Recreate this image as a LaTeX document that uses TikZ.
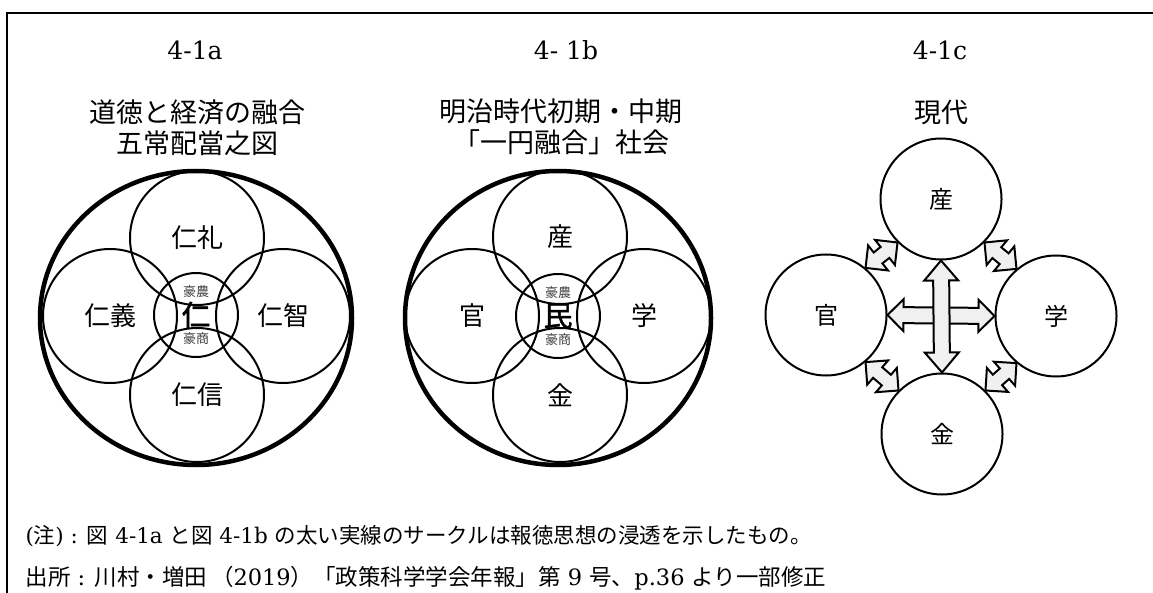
\documentclass[tikz,border=0pt]{standalone}
\usepackage{fontspec}
\usepackage{tikz}
\usetikzlibrary{calc}
\setmainfont{DejaVu Serif}
\newfontfamily\jp{Noto Sans CJK JP}
\newfontfamily\jpbold[FakeBold=1.6]{Noto Sans CJK JP}
\newcommand{\J}[1]{{\jp #1}}
\newcommand{\dblarrow}[5]{%
  \path (#1) coordinate (da) (#2) coordinate (db);
  \path ($(da)!#3!(db)$) coordinate (dha) ($(db)!#3!(da)$) coordinate (dhb);
  \filldraw[arrowbody] (da) -- ($(dha)!#4!90:(db)$) -- ($(dha)!#5!90:(db)$)
    -- ($(dhb)!#5!-90:(da)$) -- ($(dhb)!#4!-90:(da)$) -- (db)
    -- ($(dhb)!#4!90:(da)$) -- ($(dhb)!#5!90:(da)$)
    -- ($(dha)!#5!-90:(db)$) -- ($(dha)!#4!-90:(db)$) -- cycle;
}

\begin{document}
\begin{tikzpicture}[x=1pt,y=-1pt,
    ring/.style={draw, circle, line width=2pt, inner sep=0pt, minimum size=134pt,
      font=\fontsize{26}{26}\selectfont\jp},
    smallring/.style={ring, minimum size=121pt, font=\fontsize{24}{24}\selectfont\jp},
    hub/.style={draw, circle, line width=2pt, inner sep=0pt, minimum size=84pt,
      font=\fontsize{29}{29}\selectfont\jpbold},
    bigring/.style={line width=4.5pt},
    heading/.style={font=\fontsize{25}{25}\selectfont},
    title/.style={font=\fontsize{27}{31}\selectfont\jp, align=center},
    tiny/.style={font=\fontsize{13}{13}\selectfont\jp, text=black!75},
    note/.style={anchor=west, font=\fontsize{21.5}{21.5}\selectfont},
    arrowbody/.style={draw, fill=black!6, line width=2pt, line join=miter}]
      \useasboundingbox (0,0) rectangle (1153,593);
      \draw[line width=2pt] (7,593) -- (7,13) -- (1153,13);

      \node[heading] (ha) at (195,50) {4-1a};
      \node[heading] (hb) at (566,50) {4- 1b};
      \node[heading] (hc) at (940,50) {4-1c};
      \node[title] (ta) at (197,128) {道徳と経済の融合\\五常配當之図};
      \node[title] (tb) at (561,127) {明治時代初期・中期\\「一円融合」社会};
      \node[title] (tc) at (941,112) {現代};

      \draw[bigring] (196,318) ellipse [x radius=156, y radius=147];
      \node[ring] (rei) at (197,238) {仁礼};
      \node[ring] (gi) at (110,316) {仁義};
      \node[ring] (chi) at (283,316) {仁智};
      \node[ring] (shin) at (197,395) {仁信};
      \node[hub] (jin) at (196,315) {仁};
      \node[tiny] (jinu) at (196,292) {豪農};
      \node[tiny] (jind) at (196,339) {豪商};

      \draw[bigring] (558,318) ellipse [x radius=153, y radius=147];
      \node[ring] (sanb) at (560,237) {産};
      \node[ring] (kanb) at (472,316) {官};
      \node[ring] (gakub) at (644,316) {学};
      \node[ring] (kinb) at (560,395) {金};
      \node[hub] (min) at (558,316) {民};
      \node[tiny] (minu) at (558,293) {豪農};
      \node[tiny] (mind) at (558,340) {豪商};

      \node[smallring] (san) at (941,199) {産};
      \node[smallring] (kan) at (826,315) {官};
      \node[smallring] (gaku) at (1056,316) {学};
      \node[smallring] (kin) at (942,434) {金};

      \dblarrow{kan.east}{gaku.west}{16pt}{16pt}{8pt}
      \dblarrow{san.south}{kin.north}{20pt}{17pt}{8pt}
      \dblarrow{kan.50}{san.225}{16pt}{16pt}{7pt}
      \dblarrow{gaku.130}{san.315}{16pt}{16pt}{7pt}
      \dblarrow{kan.-50}{kin.135}{16pt}{16pt}{7pt}
      \dblarrow{gaku.230}{kin.45}{16pt}{16pt}{7pt}

      \node[note] (n1) at (22,536) {(\J{注}) : \J{図} 4-1a \J{と図} 4-1b \J{の太い実線のサークルは報徳思想の浸透を示したもの。}};
      \node[note, font=\fontsize{22.5}{22.5}\selectfont] (n2) at (22,578) {\J{出所} : \J{川村・増田}\,\J{（}2019\J{）}\J{「政策科学学会年報」第} 9 \J{号、}p.36 \J{より一部修正}};
    \end{tikzpicture}
\end{document}
